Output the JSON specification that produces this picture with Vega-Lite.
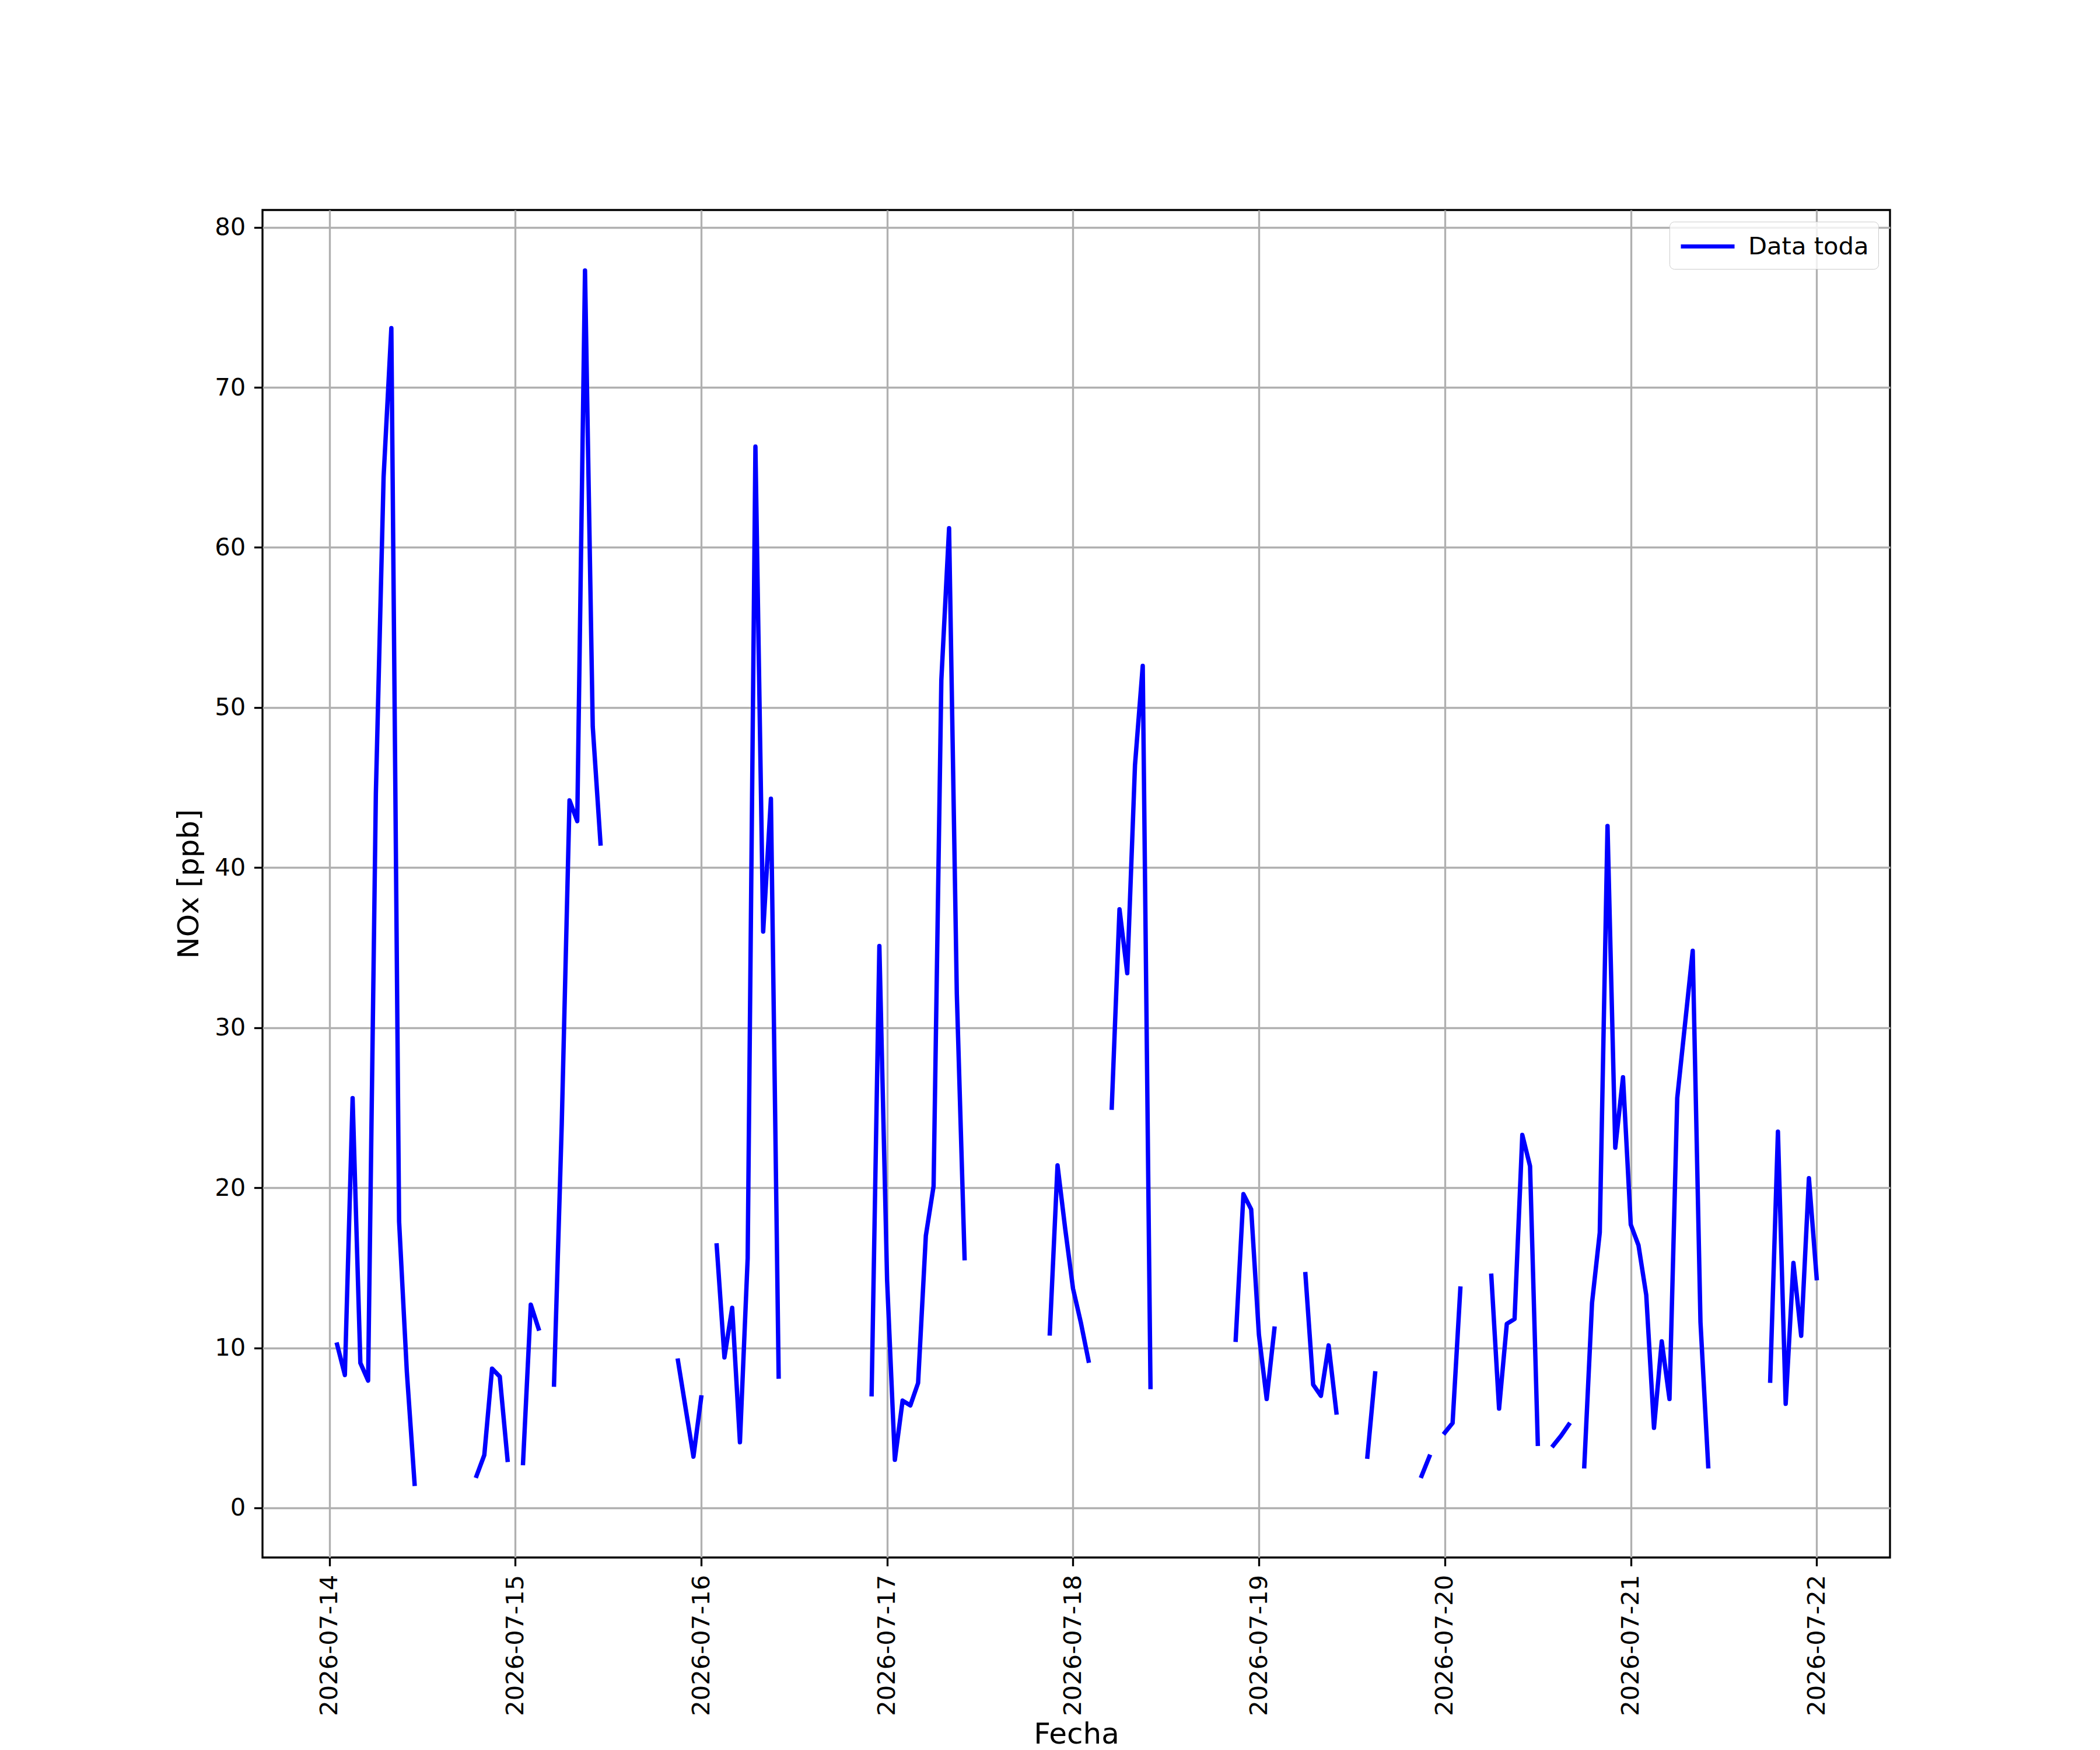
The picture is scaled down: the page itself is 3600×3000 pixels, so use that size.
{
  "$schema": "https://vega.github.io/schema/vega-lite/v6.json",
  "width": 2790,
  "height": 2310,
  "autosize": {"type": "none"},
  "padding": {"left": 450, "top": 360, "right": 360, "bottom": 330},
  "background": "white",
  "config": {
    "font": "DejaVu Sans",
    "view": {"stroke": "black", "strokeWidth": 3.33},
    "axis": {
      "domain": false,
      "grid": true,
      "gridColor": "#b0b0b0",
      "gridWidth": 3.33,
      "ticks": true,
      "tickColor": "black",
      "tickWidth": 3.33,
      "tickSize": 14.6,
      "labelFont": "DejaVu Sans",
      "labelFontSize": 41.67,
      "labelColor": "black",
      "labelPadding": 14.6,
      "labelLimit": 0,
      "titleFont": "DejaVu Sans",
      "titleFontSize": 50,
      "titleFontWeight": "normal",
      "titleColor": "black",
      "titleLimit": 0,
      "labelFlush": false,
      "labelOverlap": false
    },
    "legend": {
      "orient": "none",
      "legendX": 2412,
      "legendY": 20,
      "padding": 16,
      "strokeColor": "#cccccc",
      "fillColor": "rgba(255,255,255,0.8)",
      "cornerRadius": 8,
      "labelFont": "DejaVu Sans",
      "labelFontSize": 41.67,
      "labelColor": "black",
      "labelLimit": 0,
      "labelOffset": 43,
      "symbolType": "M-2,0H2",
      "symbolSize": 2116,
      "symbolOffset": 23,
      "symbolStrokeWidth": 7
    }
  },
  "data": {
    "values": [
      {"t": "2026-07-14T01:00", "v": 10.2},
      {"t": "2026-07-14T02:00", "v": 8.3},
      {"t": "2026-07-14T03:00", "v": 25.6},
      {"t": "2026-07-14T04:00", "v": 9.05},
      {"t": "2026-07-14T05:00", "v": 7.95},
      {"t": "2026-07-14T06:00", "v": 44.6},
      {"t": "2026-07-14T07:00", "v": 64.4},
      {"t": "2026-07-14T08:00", "v": 73.7},
      {"t": "2026-07-14T09:00", "v": 17.9},
      {"t": "2026-07-14T10:00", "v": 8.5},
      {"t": "2026-07-14T11:00", "v": 1.5},
      {"t": "2026-07-14T12:00", "v": null},
      {"t": "2026-07-14T13:00", "v": null},
      {"t": "2026-07-14T14:00", "v": null},
      {"t": "2026-07-14T15:00", "v": null},
      {"t": "2026-07-14T16:00", "v": null},
      {"t": "2026-07-14T17:00", "v": null},
      {"t": "2026-07-14T18:00", "v": null},
      {"t": "2026-07-14T19:00", "v": 2.0},
      {"t": "2026-07-14T20:00", "v": 3.3},
      {"t": "2026-07-14T21:00", "v": 8.7},
      {"t": "2026-07-14T22:00", "v": 8.2},
      {"t": "2026-07-14T23:00", "v": 3.0},
      {"t": "2026-07-15T00:00", "v": null},
      {"t": "2026-07-15T01:00", "v": 2.8},
      {"t": "2026-07-15T02:00", "v": 12.7},
      {"t": "2026-07-15T03:00", "v": 11.2},
      {"t": "2026-07-15T04:00", "v": null},
      {"t": "2026-07-15T05:00", "v": 7.7},
      {"t": "2026-07-15T06:00", "v": 24.0},
      {"t": "2026-07-15T07:00", "v": 44.2},
      {"t": "2026-07-15T08:00", "v": 42.9},
      {"t": "2026-07-15T09:00", "v": 77.3},
      {"t": "2026-07-15T10:00", "v": 48.8},
      {"t": "2026-07-15T11:00", "v": 41.5},
      {"t": "2026-07-15T12:00", "v": null},
      {"t": "2026-07-15T13:00", "v": null},
      {"t": "2026-07-15T14:00", "v": null},
      {"t": "2026-07-15T15:00", "v": null},
      {"t": "2026-07-15T16:00", "v": null},
      {"t": "2026-07-15T17:00", "v": null},
      {"t": "2026-07-15T18:00", "v": null},
      {"t": "2026-07-15T19:00", "v": null},
      {"t": "2026-07-15T20:00", "v": null},
      {"t": "2026-07-15T21:00", "v": 9.2},
      {"t": "2026-07-15T22:00", "v": 6.2},
      {"t": "2026-07-15T23:00", "v": 3.2},
      {"t": "2026-07-16T00:00", "v": 6.9},
      {"t": "2026-07-16T01:00", "v": null},
      {"t": "2026-07-16T02:00", "v": 16.4},
      {"t": "2026-07-16T03:00", "v": 9.4},
      {"t": "2026-07-16T04:00", "v": 12.5},
      {"t": "2026-07-16T05:00", "v": 4.1},
      {"t": "2026-07-16T06:00", "v": 15.6},
      {"t": "2026-07-16T07:00", "v": 66.3},
      {"t": "2026-07-16T08:00", "v": 36.0},
      {"t": "2026-07-16T09:00", "v": 44.3},
      {"t": "2026-07-16T10:00", "v": 8.2},
      {"t": "2026-07-16T11:00", "v": null},
      {"t": "2026-07-16T12:00", "v": null},
      {"t": "2026-07-16T13:00", "v": null},
      {"t": "2026-07-16T14:00", "v": null},
      {"t": "2026-07-16T15:00", "v": null},
      {"t": "2026-07-16T16:00", "v": null},
      {"t": "2026-07-16T17:00", "v": null},
      {"t": "2026-07-16T18:00", "v": null},
      {"t": "2026-07-16T19:00", "v": null},
      {"t": "2026-07-16T20:00", "v": null},
      {"t": "2026-07-16T21:00", "v": null},
      {"t": "2026-07-16T22:00", "v": 7.1},
      {"t": "2026-07-16T23:00", "v": 35.1},
      {"t": "2026-07-17T00:00", "v": 14.2},
      {"t": "2026-07-17T01:00", "v": 3.0},
      {"t": "2026-07-17T02:00", "v": 6.7},
      {"t": "2026-07-17T03:00", "v": 6.4},
      {"t": "2026-07-17T04:00", "v": 7.8},
      {"t": "2026-07-17T05:00", "v": 17.0},
      {"t": "2026-07-17T06:00", "v": 20.1},
      {"t": "2026-07-17T07:00", "v": 51.7},
      {"t": "2026-07-17T08:00", "v": 61.2},
      {"t": "2026-07-17T09:00", "v": 32.1},
      {"t": "2026-07-17T10:00", "v": 15.6},
      {"t": "2026-07-17T11:00", "v": null},
      {"t": "2026-07-17T12:00", "v": null},
      {"t": "2026-07-17T13:00", "v": null},
      {"t": "2026-07-17T14:00", "v": null},
      {"t": "2026-07-17T15:00", "v": null},
      {"t": "2026-07-17T16:00", "v": null},
      {"t": "2026-07-17T17:00", "v": null},
      {"t": "2026-07-17T18:00", "v": null},
      {"t": "2026-07-17T19:00", "v": null},
      {"t": "2026-07-17T20:00", "v": null},
      {"t": "2026-07-17T21:00", "v": 10.9},
      {"t": "2026-07-17T22:00", "v": 21.4},
      {"t": "2026-07-17T23:00", "v": 17.4},
      {"t": "2026-07-18T00:00", "v": 13.7},
      {"t": "2026-07-18T01:00", "v": 11.6},
      {"t": "2026-07-18T02:00", "v": 9.2},
      {"t": "2026-07-18T03:00", "v": null},
      {"t": "2026-07-18T04:00", "v": null},
      {"t": "2026-07-18T05:00", "v": 25.0},
      {"t": "2026-07-18T06:00", "v": 37.4},
      {"t": "2026-07-18T07:00", "v": 33.4},
      {"t": "2026-07-18T08:00", "v": 46.4},
      {"t": "2026-07-18T09:00", "v": 52.6},
      {"t": "2026-07-18T10:00", "v": 7.55},
      {"t": "2026-07-18T11:00", "v": null},
      {"t": "2026-07-18T12:00", "v": null},
      {"t": "2026-07-18T13:00", "v": null},
      {"t": "2026-07-18T14:00", "v": null},
      {"t": "2026-07-18T15:00", "v": null},
      {"t": "2026-07-18T16:00", "v": null},
      {"t": "2026-07-18T17:00", "v": null},
      {"t": "2026-07-18T18:00", "v": null},
      {"t": "2026-07-18T19:00", "v": null},
      {"t": "2026-07-18T20:00", "v": null},
      {"t": "2026-07-18T21:00", "v": 10.5},
      {"t": "2026-07-18T22:00", "v": 19.6},
      {"t": "2026-07-18T23:00", "v": 18.65},
      {"t": "2026-07-19T00:00", "v": 10.8},
      {"t": "2026-07-19T01:00", "v": 6.8},
      {"t": "2026-07-19T02:00", "v": 11.2},
      {"t": "2026-07-19T03:00", "v": null},
      {"t": "2026-07-19T04:00", "v": null},
      {"t": "2026-07-19T05:00", "v": null},
      {"t": "2026-07-19T06:00", "v": 14.6},
      {"t": "2026-07-19T07:00", "v": 7.7},
      {"t": "2026-07-19T08:00", "v": 7.0},
      {"t": "2026-07-19T09:00", "v": 10.15},
      {"t": "2026-07-19T10:00", "v": 5.96},
      {"t": "2026-07-19T11:00", "v": null},
      {"t": "2026-07-19T12:00", "v": null},
      {"t": "2026-07-19T13:00", "v": null},
      {"t": "2026-07-19T14:00", "v": 3.2},
      {"t": "2026-07-19T15:00", "v": 8.4},
      {"t": "2026-07-19T16:00", "v": null},
      {"t": "2026-07-19T17:00", "v": null},
      {"t": "2026-07-19T18:00", "v": null},
      {"t": "2026-07-19T19:00", "v": null},
      {"t": "2026-07-19T20:00", "v": null},
      {"t": "2026-07-19T21:00", "v": 2.0},
      {"t": "2026-07-19T22:00", "v": 3.2},
      {"t": "2026-07-19T23:00", "v": null},
      {"t": "2026-07-20T00:00", "v": 4.7},
      {"t": "2026-07-20T01:00", "v": 5.3},
      {"t": "2026-07-20T02:00", "v": 13.7},
      {"t": "2026-07-20T03:00", "v": null},
      {"t": "2026-07-20T04:00", "v": null},
      {"t": "2026-07-20T05:00", "v": null},
      {"t": "2026-07-20T06:00", "v": 14.5},
      {"t": "2026-07-20T07:00", "v": 6.2},
      {"t": "2026-07-20T08:00", "v": 11.5},
      {"t": "2026-07-20T09:00", "v": 11.8},
      {"t": "2026-07-20T10:00", "v": 23.3},
      {"t": "2026-07-20T11:00", "v": 21.35},
      {"t": "2026-07-20T12:00", "v": 4.0},
      {"t": "2026-07-20T13:00", "v": null},
      {"t": "2026-07-20T14:00", "v": 3.9},
      {"t": "2026-07-20T15:00", "v": 4.5},
      {"t": "2026-07-20T16:00", "v": 5.2},
      {"t": "2026-07-20T17:00", "v": null},
      {"t": "2026-07-20T18:00", "v": 2.6},
      {"t": "2026-07-20T19:00", "v": 12.8},
      {"t": "2026-07-20T20:00", "v": 17.2},
      {"t": "2026-07-20T21:00", "v": 42.6},
      {"t": "2026-07-20T22:00", "v": 22.5},
      {"t": "2026-07-20T23:00", "v": 26.9},
      {"t": "2026-07-21T00:00", "v": 17.7},
      {"t": "2026-07-21T01:00", "v": 16.4},
      {"t": "2026-07-21T02:00", "v": 13.3},
      {"t": "2026-07-21T03:00", "v": 5.0},
      {"t": "2026-07-21T04:00", "v": 10.4},
      {"t": "2026-07-21T05:00", "v": 6.8},
      {"t": "2026-07-21T06:00", "v": 25.6},
      {"t": "2026-07-21T07:00", "v": 30.2},
      {"t": "2026-07-21T08:00", "v": 34.8},
      {"t": "2026-07-21T09:00", "v": 11.6},
      {"t": "2026-07-21T10:00", "v": 2.6},
      {"t": "2026-07-21T11:00", "v": null},
      {"t": "2026-07-21T12:00", "v": null},
      {"t": "2026-07-21T13:00", "v": null},
      {"t": "2026-07-21T14:00", "v": null},
      {"t": "2026-07-21T15:00", "v": null},
      {"t": "2026-07-21T16:00", "v": null},
      {"t": "2026-07-21T17:00", "v": null},
      {"t": "2026-07-21T18:00", "v": 7.95},
      {"t": "2026-07-21T19:00", "v": 23.5},
      {"t": "2026-07-21T20:00", "v": 6.5},
      {"t": "2026-07-21T21:00", "v": 15.3},
      {"t": "2026-07-21T22:00", "v": 10.75},
      {"t": "2026-07-21T23:00", "v": 20.6},
      {"t": "2026-07-22T00:00", "v": 14.35}
    ]
  },
  "mark": {"type": "line", "strokeWidth": 7.5, "strokeCap": "square", "strokeJoin": "round", "invalid": "break-paths-filter-domains", "clip": true},
  "encoding": {
    "x": {
      "field": "t",
      "type": "temporal",
      "title": "Fecha",
      "scale": {
        "domain": [
          {"year": 2026, "month": 7, "date": 13, "hours": 15, "minutes": 22},
          {"year": 2026, "month": 7, "date": 22, "hours": 9, "minutes": 28}
        ],
        "nice": false
      },
      "axis": {
        "values": [
          {"year": 2026, "month": 7, "date": 14},
          {"year": 2026, "month": 7, "date": 15},
          {"year": 2026, "month": 7, "date": 16},
          {"year": 2026, "month": 7, "date": 17},
          {"year": 2026, "month": 7, "date": 18},
          {"year": 2026, "month": 7, "date": 19},
          {"year": 2026, "month": 7, "date": 20},
          {"year": 2026, "month": 7, "date": 21},
          {"year": 2026, "month": 7, "date": 22}
        ],
        "format": "%Y-%m-%d",
        "labelAngle": 270,
        "labelAlign": "right",
        "labelBaseline": "middle",
        "titleBaseline": "alphabetic",
        "titleY": 318
      }
    },
    "y": {
      "field": "v",
      "type": "quantitative",
      "title": "NOx [ppb]",
      "scale": {"domain": [-3.1, 81.08], "nice": false, "zero": false},
      "axis": {
        "values": [0, 10, 20, 30, 40, 50, 60, 70, 80],
        "format": "d",
        "titlePadding": 18
      }
    },
    "color": {
      "datum": "Data toda",
      "type": "nominal",
      "scale": {"range": ["#0000ff"]},
      "legend": {"title": null}
    }
  }
}
